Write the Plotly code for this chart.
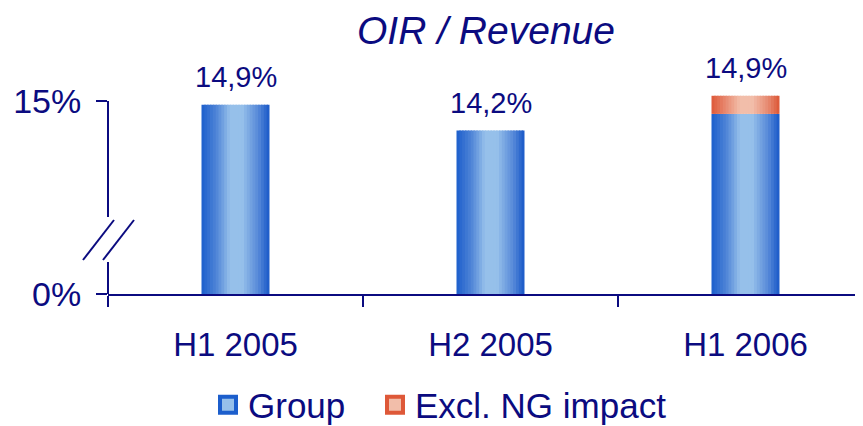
import plotly.graph_objects as go

# ---------------- data ----------------
categories = ["H1 2005", "H2 2005", "H1 2006"]
group_values = [14.9, 14.2, 14.65]          # Group OIR / Revenue (%)
excl_ng_increment = [None, None, 0.49]      # additional part excl. NG impact
bar_labels = ["14,9%", "14,2%", "14,9%"]
axis_bottom = 9.78                          # broken-axis stand-in for 0 %
y_tick_vals = [axis_bottom, 15]
y_tick_text = ["0%", "15%"]
title_text = "OIR / Revenue"
series_names = ["Group", "Excl. NG impact"]

# ---------------- styling ----------------
NAVY = "#0B0B80"
FONT = "Liberation Sans, Arial, sans-serif"
x_pos = list(range(len(categories)))
BAR_W = 68 / 255
N_STRIPS = 24
y_top = 16.378
OFF = 8            # page body margin of the html page
FW, FH = 863 - OFF, 426 - OFF

blue_stops = [(0.0, (28, 94, 204)), (0.22, (80, 133, 215)), (0.42, (150, 192, 234)),
              (0.6, (150, 192, 234)), (0.84, (84, 135, 216)), (1.0, (24, 88, 200))]
orange_stops = [(0.0, (222, 88, 56)), (0.22, (232, 140, 115)), (0.42, (242, 190, 170)),
                (0.6, (242, 190, 170)), (0.84, (230, 135, 110)), (1.0, (220, 86, 52))]


def interp(stops, t):
    for (t0, c0), (t1, c1) in zip(stops[:-1], stops[1:]):
        if t0 <= t <= t1:
            f = (t - t0) / (t1 - t0) if t1 > t0 else 0
            c = [round(a + (b - a) * f) for a, b in zip(c0, c1)]
            return "rgb(%d,%d,%d)" % tuple(c)
    return "rgb(%d,%d,%d)" % stops[-1][1]


fig = go.Figure()
step = BAR_W / N_STRIPS
for stops, yvals, base in [(blue_stops, group_values, None),
                           (orange_stops, excl_ng_increment, group_values)]:
    for k in range(N_STRIPS):
        w = step * 1.5 if k < N_STRIPS - 1 else step
        fig.add_trace(go.Bar(
            x=x_pos, y=yvals, base=base,
            width=w, offset=-BAR_W / 2 + k * step,
            marker=dict(color=interp(stops, (k + 0.5) / N_STRIPS), line=dict(width=0)),
            showlegend=False, hoverinfo="skip",
        ))

# legend proxies
legend_widths = [122, None]
for name, stops, lw in zip(series_names, [blue_stops, orange_stops], legend_widths):
    fig.add_trace(go.Scatter(
        x=[None], y=[None], mode="markers", name=name, legendwidth=lw,
        marker=dict(symbol="square", size=16, color=interp(stops, 0.45),
                    line=dict(width=4, color=interp(stops, 0.0))),
    ))

# value labels
totals = [g + (e or 0) for g, e in zip(group_values, excl_ng_increment)]
for xi, tot, lab in zip(x_pos, totals, bar_labels):
    fig.add_annotation(x=xi, y=tot, text=lab, showarrow=False, yanchor="middle",
                       yshift=28, font=dict(size=29, color=NAVY, family=FONT))

# broken y-axis line and break marks (paper coords; page pixels -> plot fraction)
PH = 244.0
PW = 755.0
def py(px):
    return (294 - px) / PH
def pxx(px):
    return (px - 108) / PW

line = dict(color=NAVY, width=2)
fig.add_shape(type="line", xref="paper", yref="paper", x0=0, x1=0, y0=py(101), y1=py(217), line=line)
fig.add_shape(type="line", xref="paper", yref="paper", x0=0, x1=0, y0=py(262), y1=0, line=line)
fig.add_shape(type="line", xref="paper", yref="paper", x0=pxx(83), x1=pxx(114), y0=py(260), y1=py(220), line=line)
fig.add_shape(type="line", xref="paper", yref="paper", x0=pxx(103), x1=pxx(134), y0=py(260), y1=py(220), line=line)

fig.update_layout(
    width=FW, height=FH,
    margin=dict(l=108 - OFF, r=0, t=50 - OFF, b=426 - 294, autoexpand=False),
    paper_bgcolor="white", plot_bgcolor="white",
    barmode="overlay",
    font=dict(family=FONT, color=NAVY),
    title=dict(text="<i>" + title_text + "</i>", x=(486 - OFF) / FW, xanchor="center",
               y=1 - (29 - OFF + 1) / FH, yanchor="middle",
               font=dict(size=39, color=NAVY, family=FONT)),
    xaxis=dict(range=[-0.5, 2.5 - 10 / 255], tickvals=x_pos, ticktext=categories,
               showline=True, linecolor=NAVY, linewidth=2, ticks="", showgrid=False,
               zeroline=False, tickfont=dict(size=33, color=NAVY, family=FONT),
               ticklabelstandoff=20, automargin=False,
               minor=dict(tickvals=[-0.5, 0.5, 1.5, 2.5], ticks="outside", ticklen=11,
                          tickwidth=2, tickcolor=NAVY, showgrid=False)),
    yaxis=dict(range=[axis_bottom, y_top], tickvals=y_tick_vals, ticktext=y_tick_text,
               ticks="outside", ticklen=11, tickwidth=2, tickcolor=NAVY,
               showline=False, showgrid=False, zeroline=False, automargin=False,
               tickfont=dict(size=34, color=NAVY, family=FONT), ticklabelstandoff=8),
    legend=dict(orientation="h", xref="container", x=(208 - OFF) / FW, xanchor="left",
                yref="container", y=1 - (405 - OFF) / FH, yanchor="middle",
                font=dict(size=35, color=NAVY, family=FONT), bgcolor="rgba(0,0,0,0)"),
    showlegend=True,
)

fig.write_html("out.html")
